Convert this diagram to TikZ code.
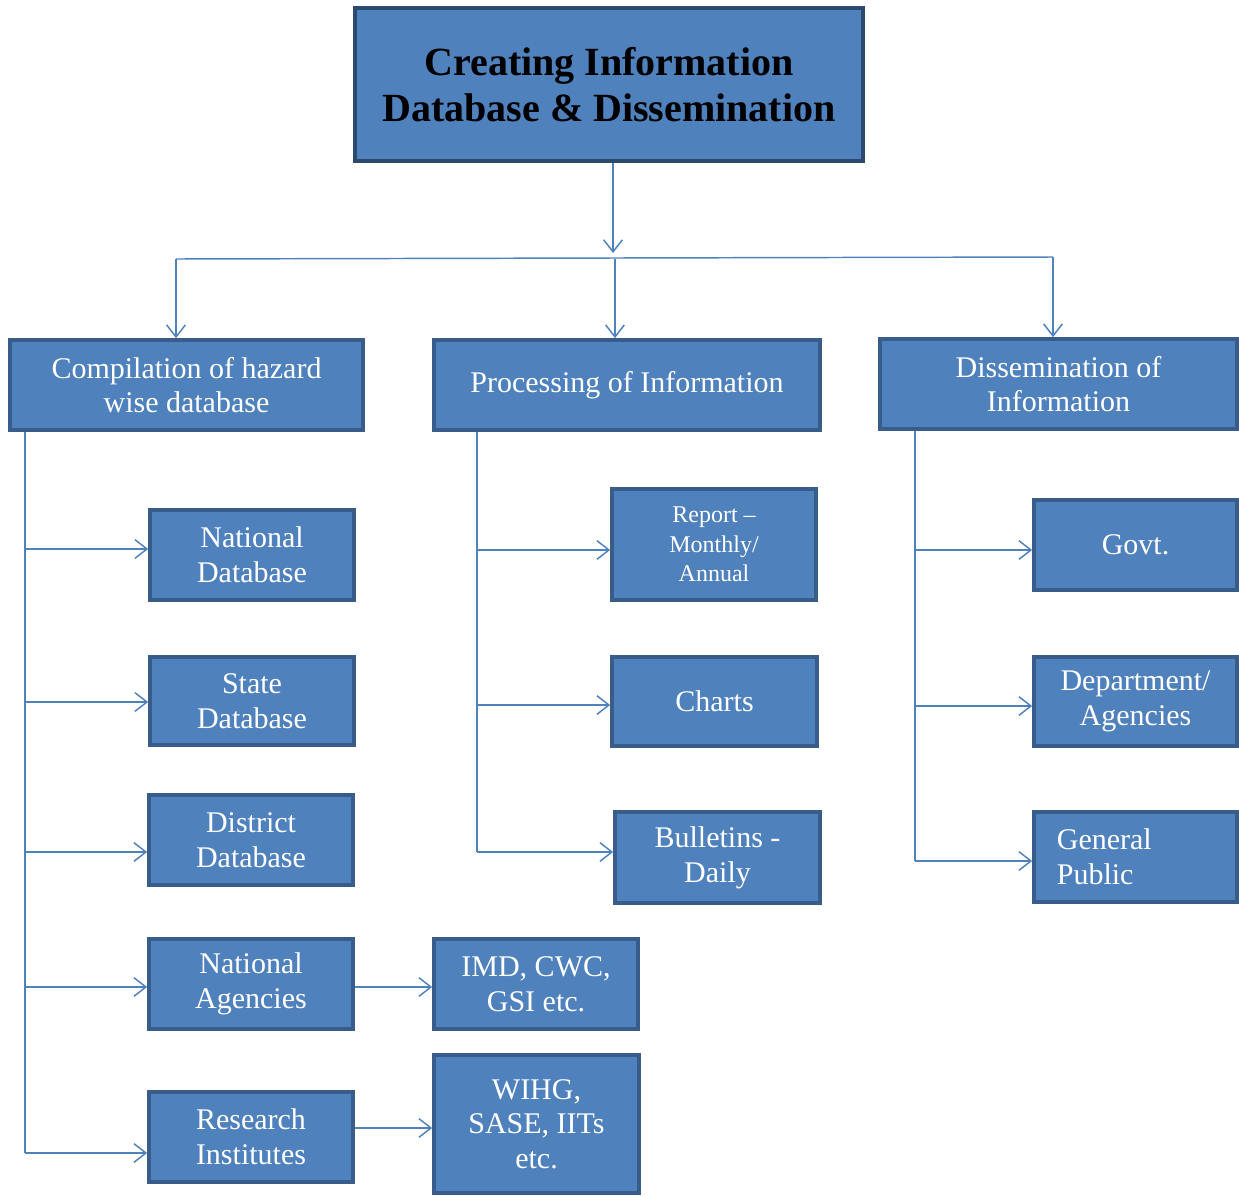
\documentclass[tikz,border=0pt]{standalone}
\usepackage{fontspec}
\setmainfont{Liberation Serif}
\usetikzlibrary{arrows.meta}
\definecolor{boxfill}{HTML}{4F81BD}
\definecolor{boxline}{HTML}{385D8A}
\definecolor{titleline}{HTML}{2C4A6E}
\definecolor{conn}{HTML}{4F81BD}
\tikzset{
  box/.style={draw=boxline, fill=boxfill, line width=2.8pt, inner sep=2pt, align=center,
    text=white, font=\fontsize{22.5}{26}\selectfont},
  titlebox/.style={box, draw=titleline, line width=3.2pt, text=black,
    font=\fontsize{30}{35}\selectfont\bfseries},
  link/.style={draw=conn, line width=1.1pt},
  arr/.style={link, -{Straight Barb[length=9pt,width=14pt,line width=1.1pt]}}
}
\newcommand\bx[7][]{\node[box,#1,minimum width={(#5-#3)*0.75pt},minimum height={(#6-#4)*0.75pt}] (#2) at ({(#3+#5)/2},{(#4+#6)/2}) {#7};}
\begin{document}
\begin{tikzpicture}[x=0.75pt,y=-0.75pt]
\useasboundingbox (0,0) rectangle (1239,1196);
% boxes
\bx[titlebox]{title}{355}{8}{863}{161}{Creating Information\\Database \& Dissemination}
\bx{comp}{10}{340}{363}{430}{Compilation of hazard\\wise database}
\bx{proc}{434}{340}{820}{430}{Processing of Information}
\bx{diss}{880}{339}{1237}{429}{Dissemination of\\Information}
\bx{natdb}{150}{510}{354}{600}{National\\Database}
\bx{statedb}{150}{657}{354}{745}{State\\Database}
\bx{distdb}{149}{795}{353}{885}{District\\Database}
\bx{natag}{149}{939}{353}{1029}{National\\Agencies}
\bx{resin}{149}{1092}{353}{1182}{Research\\Institutes}
\bx{imd}{434}{939}{638}{1029}{IMD, CWC,\\GSI etc.}
\bx{wihg}{434}{1055}{639}{1193}{WIHG,\\SASE, IITs\\etc.}
\bx[font=\fontsize{18}{22}\selectfont]{report}{612}{489}{816}{600}{Report --\\Monthly/\\Annual}
\bx{charts}{612}{657}{817}{746}{Charts}
\bx{bull}{615}{812}{820}{903}{Bulletins -\\Daily}
\bx{govt}{1034}{500}{1237}{590}{Govt.}
\bx{dept}{1034}{657}{1237}{746}{Department/\\Agencies}
\bx[align=left,text width=118pt,inner xsep=16pt]{pub}{1034}{812}{1237}{902}{General\\Public}
% coordinates
\coordinate (tA) at (613,253);
\coordinate (hL) at (176,259);
\coordinate (hM) at (615,259);
\coordinate (hR) at (1053,257);
\coordinate (lT) at (25,0);
\coordinate (mT) at (477,0);
\coordinate (rT) at (915,0);
% top connectors
\draw[arr] (title.south -| tA) -- (tA);
\draw[link] (hL) -- (hR);
\draw[arr] (hL) -- (comp.north -| hL);
\draw[arr] (hM) -- (proc.north -| hM);
\draw[arr] (hR) -- (diss.north -| hR);
% left trunk
\draw[link] (comp.south -| lT) -- (lT |- 0,1153);
\draw[arr] (lT |- 0,549) -- (natdb.west |- 0,549);
\draw[arr] (lT |- 0,702) -- (statedb.west |- 0,702);
\draw[arr] (lT |- 0,852) -- (distdb.west |- 0,852);
\draw[arr] (lT |- 0,987) -- (natag.west |- 0,987);
\draw[arr] (lT |- 0,1153) -- (resin.west |- 0,1153);
\draw[arr] (natag.east |- 0,987) -- (imd.west |- 0,987);
\draw[arr] (resin.east |- 0,1128) -- (wihg.west |- 0,1128);
% middle trunk
\draw[link] (proc.south -| mT) -- (mT |- 0,852);
\draw[arr] (mT |- 0,550) -- (report.west |- 0,550);
\draw[arr] (mT |- 0,705) -- (charts.west |- 0,705);
\draw[arr] (mT |- 0,852) -- (bull.west |- 0,852);
% right trunk
\draw[link] (diss.south -| rT) -- (rT |- 0,861);
\draw[arr] (rT |- 0,550) -- (govt.west |- 0,550);
\draw[arr] (rT |- 0,706) -- (dept.west |- 0,706);
\draw[arr] (rT |- 0,861) -- (pub.west |- 0,861);
\end{tikzpicture}
\end{document}
